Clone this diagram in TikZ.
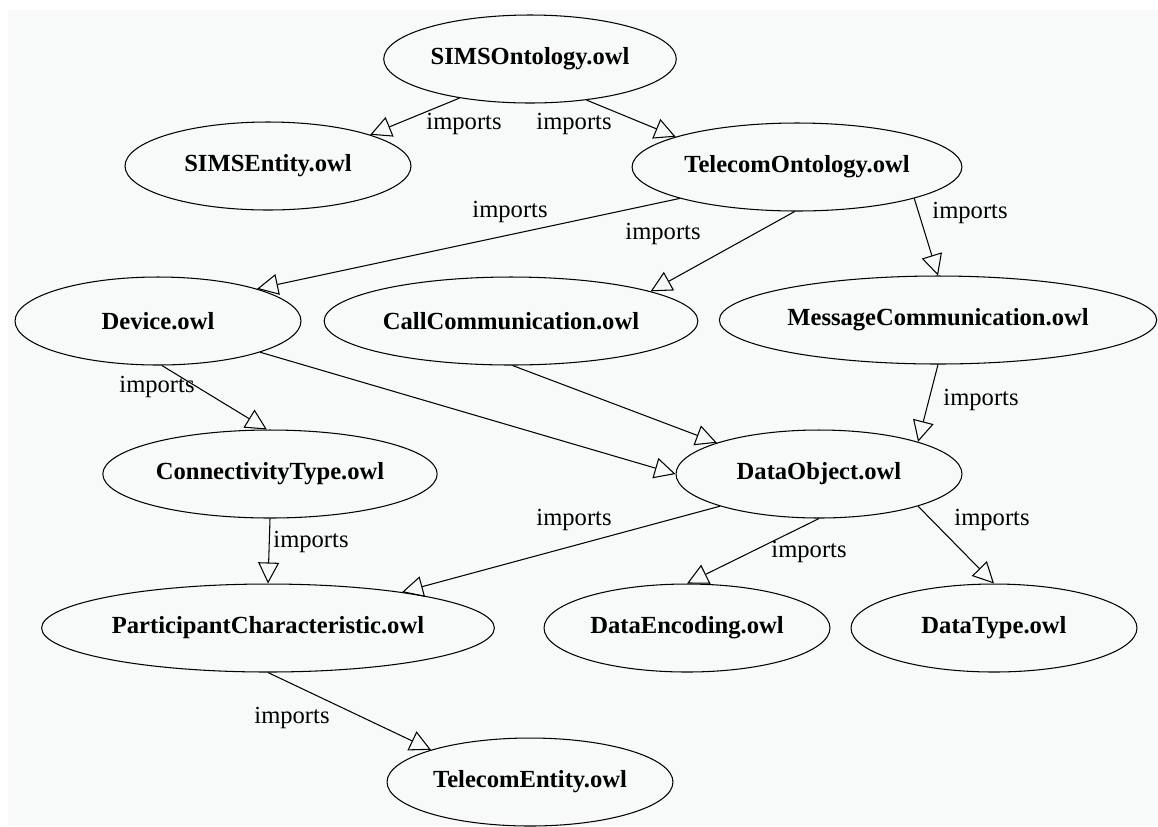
\documentclass[tikz,border=0pt]{standalone}
\usepackage{fontspec}
\setmainfont{Liberation Serif}
\usepackage{tikz}
\usetikzlibrary{shapes.geometric, arrows.meta}
\usepackage{xcolor}
\definecolor{canvasgrey}{RGB}{247, 250, 249}

\begin{document}
\begin{tikzpicture}[
    x=0.02cm, y=-0.02cm,
    owl/.style={
      draw, ellipse, minimum width=5.72cm, minimum height=1.76cm,
      inner xsep=0.08cm, font=\fontsize{14}{16}\selectfont\bfseries,
      line width=0.6pt
    },
    imparrow/.style={
      -{Triangle[open, length=0.42cm, width=0.42cm]},
      line width=0.6pt
    },
    lbl/.style={font=\fontsize{14}{16}\selectfont, inner sep=0pt},
]
    \useasboundingbox (0,0) rectangle (1158,826);
    \fill[canvasgrey] (8,10) rectangle (1158,826);

    % Ontology files
    \node[owl] (sims) at (530,59) {SIMSOntology.owl};
    \node[owl] (simsent) at (268,166) {SIMSEntity.owl};
    \node[owl] (tel) at (797,167) {TelecomOntology.owl};
    \node[owl] (dev) at (158,321) {Device.owl};
    \node[owl] (call) at (511,321) {CallCommunication.owl};
    \node[owl] (msg) at (938,320) {MessageCommunication.owl};
    \node[owl] (conn) at (270,474) {ConnectivityType.owl};
    \node[owl] (dobj) at (819,474) {DataObject.owl};
    \node[owl] (part) at (268,628) {ParticipantCharacteristic.owl};
    \node[owl] (denc) at (687,628) {DataEncoding.owl};
    \node[owl] (dtype) at (994,628) {DataType.owl};
    \node[owl] (tent) at (530,782) {TelecomEntity.owl};

    % Import edges
    \draw[imparrow] (sims.-151) -- (simsent.17);
    \draw[imparrow] (sims.-36) -- (tel.166);
    \draw[imparrow] (tel.-165) -- (dev.18);
    \draw[imparrow] (tel.-93) -- (call.12);
    \draw[imparrow] (tel.-15) -- (msg.90);
    \draw[imparrow] (dev.-85) -- (conn.94);
    \draw[imparrow] (dev.-17) -- (dobj.180);
    \draw[imparrow] (call.-88) -- (dobj.163);
    \draw[imparrow] (msg.-90) -- (dobj.18);
    \draw[imparrow] (conn.south) -- (part.north);
    \draw[imparrow] (dobj.-162) -- (part.15);
    \draw[imparrow] (dobj.south) -- (denc.north);
    \draw[imparrow] (dobj.-18) -- (dtype.north);
    \draw[imparrow] (part.south) -- (tent.162);

    % Edge labels
    \node[lbl] (l1) at (464,124) {imports};
    \node[lbl] (l2) at (574,124) {imports};
    \node[lbl] (l3) at (510,212) {imports};
    \node[lbl] (l4) at (663,234) {imports};
    \node[lbl] (l5) at (970,213) {imports};
    \node[lbl] (l6) at (157,387) {imports};
    \node[lbl] (l7) at (981,400) {imports};
    \node[lbl] (l8) at (311,542) {imports};
    \node[lbl] (l9) at (574,520) {imports};
    \node[lbl] (l10) at (809,552) {imports};
    \node[lbl] (l11) at (992,520) {imports};
    \node[lbl] (l12) at (292,718) {imports};
\end{tikzpicture}
\end{document}
